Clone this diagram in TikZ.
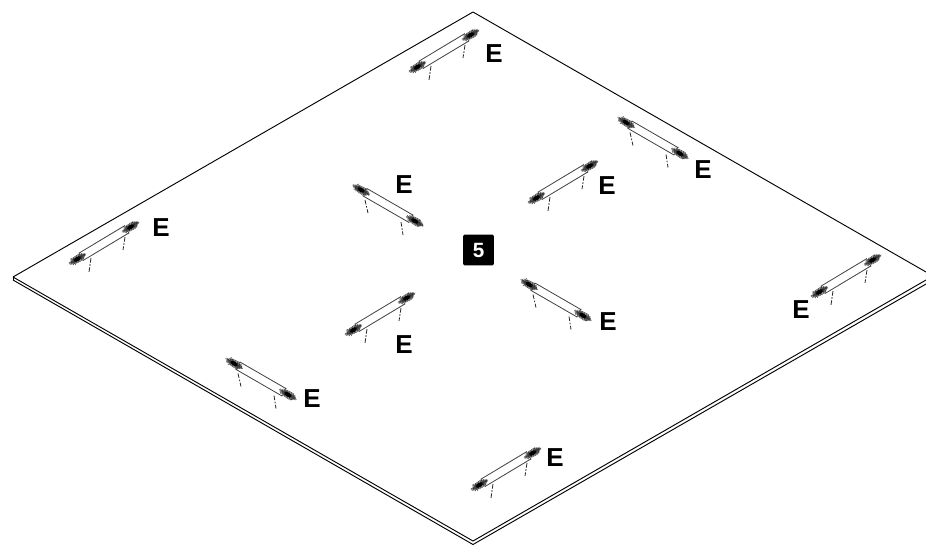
\documentclass[tikz,border=0pt]{standalone}
\usepackage{fontspec}
\setmainfont{Liberation Sans}
\usetikzlibrary{positioning}
\tikzstyle{edge} = [draw, line width=0.7pt, line join=round]
\tikzstyle{bar} = [draw, line width=0.6pt, black!75]
\tikzstyle{leg} = [draw, line width=0.6pt, dash pattern=on 3.5pt off 1.2pt on 1.2pt off 1.2pt, black!85]
\tikzstyle{spike} = [draw, line width=0.3pt, black!85]
\tikzstyle{letter} = [font=\fontsize{19.5}{20}\selectfont\bfseries, inner sep=0pt]
\tikzstyle{badge} = [fill=black, text=white, rounded corners=1pt, minimum size=23pt, inner sep=0pt, font=\fontsize{15.5}{16}\selectfont\bfseries]
\tikzset{
  pics/tuft/.style={code={
    \foreach \a/\l in {0/10, 1/9, -1/9.5, 2/8, -2/7.5, 3/7, -3/6.5, 4/5, -4/5.5} {
      \draw[spike] (-\l,\a) -- (\l,{-\a*0.9});
      \draw[spike] (-\l+2,{\a*0.8}) -- (\l-1,{\a*0.9});
    }
    \fill (0,0) ellipse (3.8 and 2.2);
  }},
  pics/beam/.style={code={
    \draw[bar] (-27,-4.2) -- (27,-4.2);
    \draw[bar] (-27,4.2) -- (27,4.2);
    \pic[transform shape] at (-31,0) {tuft};
    \pic[transform shape] at (31,0) {tuft};
  }},
  pics/risebar/.style={code={
    \pic[rotate=31] at (0,0) {beam};
    \draw[leg] (-13,15) -- (-15,29);
    \draw[leg] (21,-6) -- (19,7);
  }},
  pics/fallbar/.style={code={
    \pic[rotate=-30] at (0,0) {beam};
    \draw[leg] (-23,-5.5) -- (-20,7.5);
    \draw[leg] (13,16.5) -- (15,29.5);
  }}
}

\begin{document}
\begin{tikzpicture}[x=0.75pt, y=-0.75pt]
    \useasboundingbox (0,0) rectangle (926,544);
    \clip (0,0) rectangle (926,544);

    % plate
    \coordinate (top) at (473,12);
    \coordinate (left) at (13,277);
    \coordinate (right) at (933,276);
    \coordinate (bottom) at (473,541);
    \draw[edge] (left) -- (top) -- (right);
    \draw[edge] (left) -- (bottom) -- (right);
    \draw[edge] (13,280) -- (473,544.5) -- (933,280);
    \draw[edge] (left) -- (13,280);

    % bars
    \pic at (444,51) {risebar};
    \pic at (563,182) {risebar};
    \pic at (104,243) {risebar};
    \pic at (380,314) {risebar};
    \pic at (846,276) {risebar};
    \pic at (506,469) {risebar};
    \pic at (653,138) {fallbar};
    \pic at (388,205.5) {fallbar};
    \pic at (556,300) {fallbar};
    \pic at (261,379) {fallbar};

    % labels
    \node[letter] (e_top) at (494,54) {E};
    \node[letter] (e_mid_ne) at (607,186) {E};
    \node[letter] (e_left) at (161,228) {E};
    \node[letter] (e_mid_sw) at (404,345) {E};
    \node[letter] (e_right) at (801,310) {E};
    \node[letter] (e_bottom) at (555,458) {E};
    \node[letter] (e_ne) at (703,170) {E};
    \node[letter] (e_mid_nw) at (404,185) {E};
    \node[letter] (e_mid_se) at (608,322) {E};
    \node[letter] (e_sw) at (312,399) {E};

    \node[badge] (five) at (478.5,250) {5};
\end{tikzpicture}
\end{document}
